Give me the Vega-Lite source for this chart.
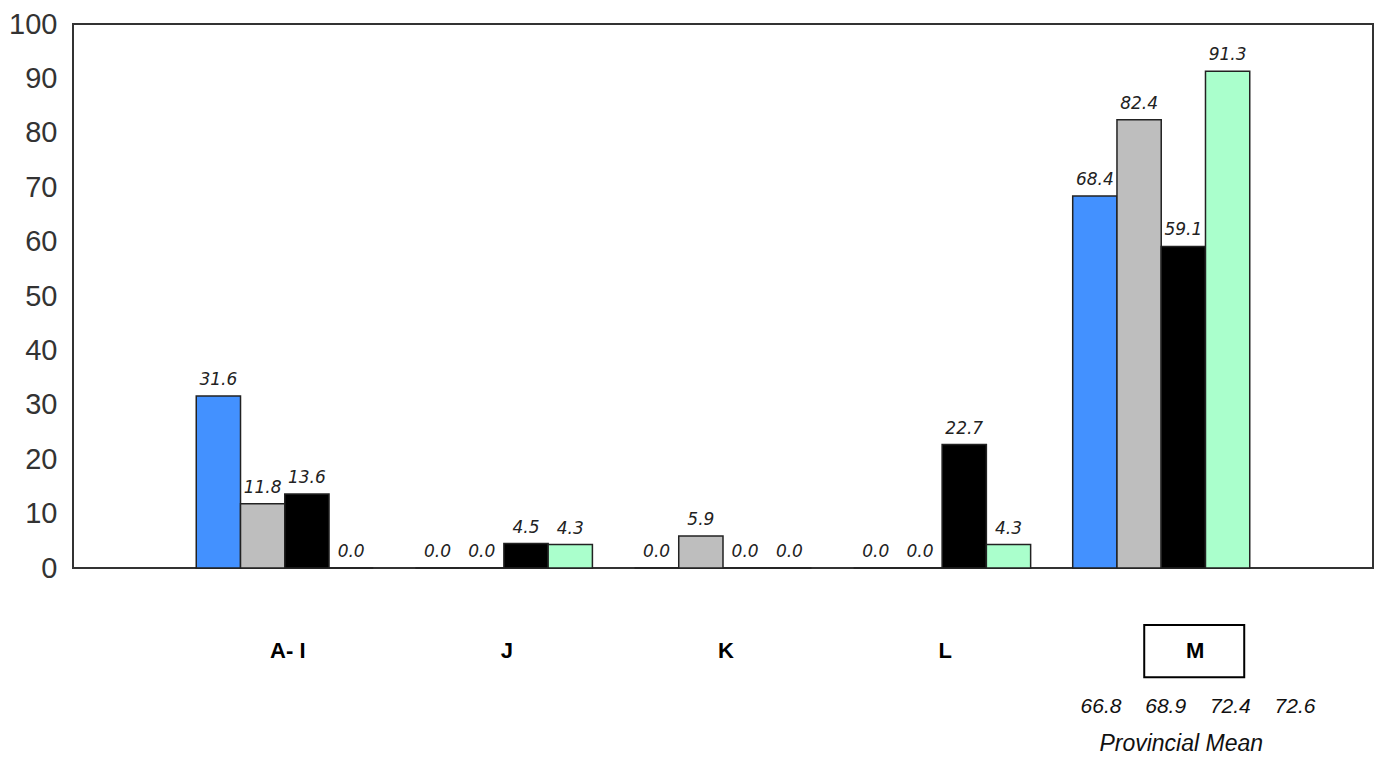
{
  "$schema": "https://vega.github.io/schema/vega-lite/v6.json",
  "width": 1300,
  "height": 544,
  "autosize": {"type": "none"},
  "padding": {"left": 73, "top": 24, "right": 4, "bottom": 189},
  "background": "white",
  "config": {"view": {"stroke": "#333333", "strokeWidth": 2}, "font": "Liberation Sans"},
  "datasets": {
    "bars": [
      {"group": "A- I", "series": "S1", "value": 31.6},
      {"group": "A- I", "series": "S2", "value": 11.8},
      {"group": "A- I", "series": "S3", "value": 13.6},
      {"group": "A- I", "series": "S4", "value": 0.0},
      {"group": "J", "series": "S1", "value": 0.0},
      {"group": "J", "series": "S2", "value": 0.0},
      {"group": "J", "series": "S3", "value": 4.5},
      {"group": "J", "series": "S4", "value": 4.3},
      {"group": "K", "series": "S1", "value": 0.0},
      {"group": "K", "series": "S2", "value": 5.9},
      {"group": "K", "series": "S3", "value": 0.0},
      {"group": "K", "series": "S4", "value": 0.0},
      {"group": "L", "series": "S1", "value": 0.0},
      {"group": "L", "series": "S2", "value": 0.0},
      {"group": "L", "series": "S3", "value": 22.7},
      {"group": "L", "series": "S4", "value": 4.3},
      {"group": "M", "series": "S1", "value": 68.4},
      {"group": "M", "series": "S2", "value": 82.4},
      {"group": "M", "series": "S3", "value": 59.1},
      {"group": "M", "series": "S4", "value": 91.3}
    ],
    "groups": [
      {"group": "A- I"}, {"group": "J"}, {"group": "K"}, {"group": "L"}, {"group": "M"}
    ],
    "means": [
      {"series": "S1", "mean": 66.8},
      {"series": "S2", "mean": 68.9},
      {"series": "S3", "mean": 72.4},
      {"series": "S4", "mean": 72.6}
    ],
    "notes": [
      {"group": "M", "label": "Provincial Mean"}
    ]
  },
  "layer": [
    {
      "layer": [
        {
          "data": {"name": "bars"},
          "mark": {"type": "bar", "stroke": "#222222", "strokeWidth": 1.5},
          "encoding": {
            "x": {"field": "group", "type": "nominal", "sort": null,
                  "scale": {"domain": ["A- I", "J", "K", "L", "M"], "paddingInner": 0.192, "paddingOuter": 0.5625},
                  "axis": null},
            "xOffset": {"field": "series", "type": "nominal", "sort": null,
                        "scale": {"domain": ["S1", "S2", "S3", "S4"], "paddingInner": 0, "paddingOuter": 0}},
            "y": {"field": "value", "type": "quantitative",
                  "scale": {"domain": [0, 100], "nice": false, "zero": true},
                  "axis": {"values": [0, 10, 20, 30, 40, 50, 60, 70, 80, 90, 100], "domain": false, "ticks": false, "grid": false,
                           "labelFontSize": 29, "labelFont": "Liberation Sans", "labelColor": "#333333", "labelPadding": 16,
                           "labelOverlap": false, "labelBound": false, "title": null}},
            "color": {"field": "series", "type": "nominal",
                      "scale": {"domain": ["S1", "S2", "S3", "S4"], "range": ["#4391ff", "#bebebe", "#000000", "#aaffcc"]},
                      "legend": null}
          }
        },
        {
          "data": {"name": "bars"},
          "mark": {"type": "text", "dy": -11, "baseline": "alphabetic", "font": "DejaVu Sans", "fontStyle": "italic", "fontSize": 17, "color": "#222222"},
          "encoding": {
            "x": {"field": "group", "type": "nominal", "sort": null},
            "xOffset": {"field": "series", "type": "nominal", "sort": null},
            "y": {"field": "value", "type": "quantitative"},
            "text": {"field": "value", "type": "quantitative", "format": ".1f"}
          }
        },
        {
          "data": {"name": "groups"},
          "transform": [{"filter": "datum.group !== 'M'"}],
          "mark": {"type": "text", "xOffset": 3, "baseline": "middle", "font": "Liberation Sans", "fontWeight": "bold", "fontSize": 22, "color": "#000000"},
          "encoding": {
            "x": {"field": "group", "type": "nominal", "sort": null},
            "y": {"datum": -15.3, "type": "quantitative"},
            "text": {"field": "group", "type": "nominal"}
          }
        },
        {
          "data": {"name": "groups"},
          "transform": [{"filter": "datum.group === 'M'"}],
          "mark": {"type": "bar", "width": 100, "xOffset": 33, "fill": "white", "stroke": "#000000", "strokeWidth": 2},
          "encoding": {
            "x": {"field": "group", "type": "nominal", "sort": null},
            "y": {"datum": -10.5, "type": "quantitative"},
            "y2": {"datum": -20.1}
          }
        },
        {
          "data": {"name": "groups"},
          "transform": [{"filter": "datum.group === 'M'"}],
          "mark": {"type": "text", "xOffset": 34, "baseline": "middle", "font": "Liberation Sans", "fontWeight": "bold", "fontSize": 22, "color": "#000000"},
          "encoding": {
            "x": {"field": "group", "type": "nominal", "sort": null},
            "y": {"datum": -15.3, "type": "quantitative"},
            "text": {"field": "group", "type": "nominal"}
          }
        },
        {
          "data": {"name": "notes"},
          "mark": {"type": "text", "xOffset": 20, "baseline": "middle", "font": "Liberation Sans", "fontStyle": "italic", "fontSize": 23, "color": "#111111"},
          "encoding": {
            "x": {"field": "group", "type": "nominal", "sort": null},
            "y": {"datum": -32.4, "type": "quantitative"},
            "text": {"field": "label", "type": "nominal"}
          }
        }
      ]
    },
    {
      "data": {"name": "means"},
      "mark": {"type": "text", "baseline": "middle", "font": "Liberation Sans", "fontStyle": "italic", "fontSize": 21, "color": "#111111"},
      "encoding": {
        "x": {"field": "series", "type": "nominal", "sort": null,
              "scale": {"type": "point", "padding": 0, "range": [1028, 1222]}, "axis": null},
        "y": {"datum": -25.6, "type": "quantitative"},
        "text": {"field": "mean", "type": "quantitative", "format": ".1f"}
      }
    }
  ],
  "resolve": {"scale": {"x": "independent"}}
}
